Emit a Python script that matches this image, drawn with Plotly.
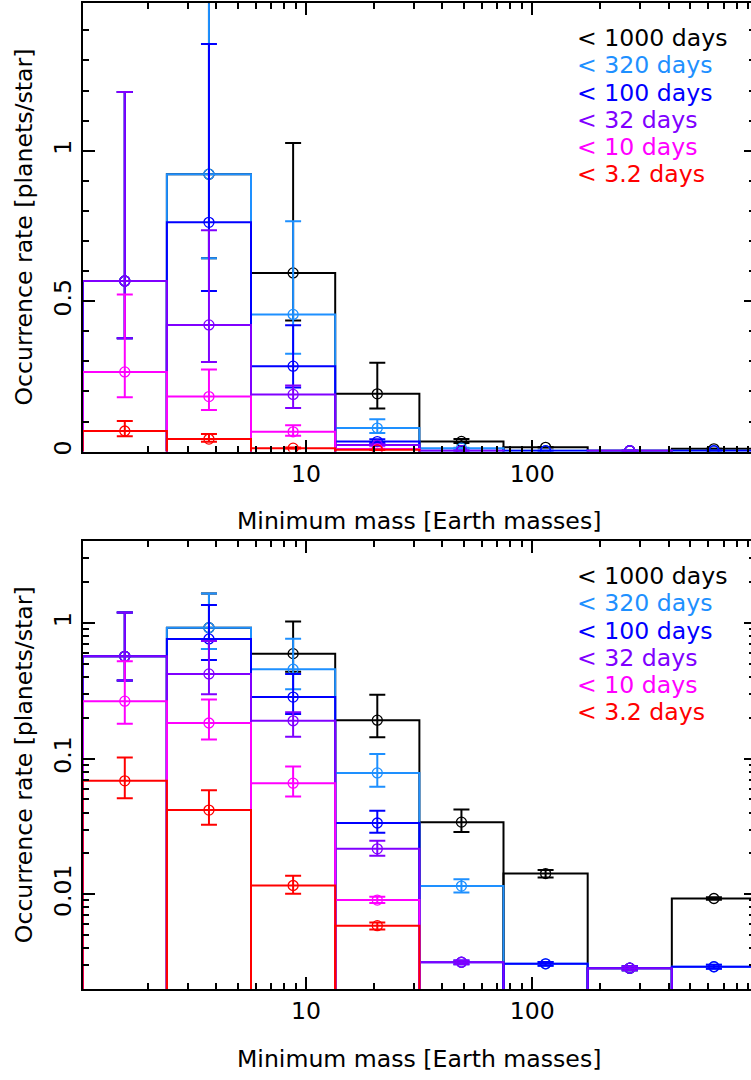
import math
import plotly.graph_objects as go

# Mass bins (Earth masses) shared by every period cut
mass_edges = [1.031, 2.428, 5.716, 13.46, 31.70, 74.6, 175.7, 413.6, 973.9]

period_labels = ["< 1000 days", "< 320 days", "< 100 days", "< 32 days", "< 10 days", "< 3.2 days"]
period_colors = ["#000000", "#1E90FF", "#0000FF", "#8000FF", "#FF00FF", "#FF0000"]

# Occurrence rate per mass bin, with upper / lower bounds of the error bars
rate_1000 = [0.567, 0.922, 0.594, 0.192, 0.0340, 0.0142, 0.00285, 0.0093]
upper_1000 = [1.195, 1.65, 1.026, 0.295, 0.0422, 0.0151, 0.00295, 0.0095]
lower_1000 = [0.377, 0.643, 0.436, 0.1435, 0.0287, 0.0133, 0.00275, 0.0091]

rate_320 = [0.567, 0.922, 0.456, 0.0784, 0.01148, 0.00307, 0.00285, 0.00292]
upper_320 = [1.195, 1.65, 0.766, 0.108, 0.0129, 0.00317, 0.00295, 0.00302]
lower_320 = [0.377, 0.643, 0.325, 0.0619, 0.0103, 0.00297, 0.00275, 0.00282]

rate_100 = [0.567, 0.762, 0.284, 0.0335, 0.00315, 0.00307, 0.00285, 0.00292]
upper_100 = [1.195, 1.355, 0.42, 0.0412, 0.00325, 0.00317, 0.00295, 0.00302]
lower_100 = [0.377, 0.534, 0.213, 0.0284, 0.00305, 0.00297, 0.00275, 0.00282]

rate_32 = [0.567, 0.421, 0.190, 0.0216, 0.00315, 0.0, 0.00285, 0.0]
upper_32 = [1.195, 0.736, 0.22, 0.0248, 0.00325, 0.0, 0.00295, 0.0]
lower_32 = [0.377, 0.298, 0.145, 0.0192, 0.00305, 0.0, 0.00275, 0.0]

rate_10 = [0.265, 0.183, 0.0659, 0.00905, 0.0, 0.0, 0.0, 0.0]
upper_10 = [0.522, 0.273, 0.0874, 0.0096, 0.0, 0.0, 0.0, 0.0]
lower_10 = [0.181, 0.138, 0.0526, 0.0086, 0.0, 0.0, 0.0, 0.0]

rate_3p2 = [0.0685, 0.0417, 0.0116, 0.00586, 0.0, 0.0, 0.0, 0.0]
upper_3p2 = [0.102, 0.0585, 0.0137, 0.0062, 0.0, 0.0, 0.0, 0.0]
lower_3p2 = [0.0511, 0.0325, 0.0101, 0.0055, 0.0, 0.0, 0.0, 0.0]

series = [
    (rate_1000, upper_1000, lower_1000),
    (rate_320, upper_320, lower_320),
    (rate_100, upper_100, lower_100),
    (rate_32, upper_32, lower_32),
    (rate_10, upper_10, lower_10),
    (rate_3p2, upper_3p2, lower_3p2),
]

W, H = 751, 1080
FONT = "DejaVu Sans"
FS = 23.6


def px_x(p):
    return p / W


def px_y(p):
    return 1 - p / H


# plot frame in pixels
left_px = 82.7
axis_right_px = 756.0          # right end of the mass axis (just past the page edge)
top_panels = [(3.3, 453.3), (543.3, 992.7)]

lo = math.log10(mass_edges[0])
hi = math.log10(mass_edges[-1])
x_visible_hi = lo + (hi - lo) * (W - left_px) / (axis_right_px - left_px)

centers = [math.sqrt(a * b) for a, b in zip(mass_edges[:-1], mass_edges[1:])]


def bin_boxes(rate, floor):
    """Open-topped box for every filled bin, each standing on the floor."""
    xs, ys = [], []
    for i, v in enumerate(rate):
        if v <= 0:
            continue
        a, b = mass_edges[i], mass_edges[i + 1]
        xs += [a, a, b, b, None]
        ys += [floor, v, v, floor, None]
    return xs, ys


fig = go.Figure()

panel_axes = [("x", "y", 0.0), ("x2", "y2", 1e-5)]
for xa, ya, floor in panel_axes:
    for (rate, up, low), col in zip(series, period_colors):
        xs, ys = bin_boxes(rate, floor)
        fig.add_trace(go.Scatter(
            x=xs, y=ys, mode="lines", xaxis=xa, yaxis=ya, connectgaps=False,
            line=dict(color=col, width=2), hoverinfo="skip", showlegend=False,
        ))
        yv = [v if v > 0 else None for v in rate]
        e_plus = [u - v if v > 0 else 0 for u, v in zip(up, rate)]
        e_minus = [v - l if v > 0 else 0 for l, v in zip(low, rate)]
        fig.add_trace(go.Scatter(
            x=centers, y=yv, mode="markers", xaxis=xa, yaxis=ya,
            marker=dict(symbol="circle-open", size=10, color=col, line=dict(width=1.3, color=col)),
            error_y=dict(type="data", symmetric=False, array=e_plus, arrayminus=e_minus,
                         color=col, thickness=2, width=8),
            hoverinfo="skip", showlegend=False, cliponaxis=True,
        ))

# empty traces so the right-hand tick axes are drawn
fig.add_trace(go.Scatter(x=[], y=[], xaxis="x", yaxis="y3", showlegend=False))
fig.add_trace(go.Scatter(x=[], y=[], xaxis="x2", yaxis="y4", showlegend=False))

tickfont = dict(family=FONT, size=FS, color="black")

x_common = dict(
    type="log", range=[lo, x_visible_hi], domain=[px_x(left_px), 1.0],
    showline=True, linecolor="black", linewidth=2, mirror="ticks",
    ticks="inside", ticklen=12, tickwidth=1.5, tickcolor="black", dtick=1,
    showgrid=False, zeroline=False, tickfont=tickfont,
    minor=dict(ticks="inside", ticklen=6, tickwidth=1.5, tickcolor="black", dtick="D1", showgrid=False),
)

y_top_dom = [px_y(top_panels[0][1]), px_y(top_panels[0][0])]
y_bot_dom = [px_y(top_panels[1][1]), px_y(top_panels[1][0])]

y_lin = dict(
    range=[0, 1.49], dtick=0.5, tick0=0,
    minor=dict(ticks="inside", ticklen=6, tickwidth=1.5, tickcolor="black", dtick=0.1, showgrid=False),
)
y_log = dict(
    type="log", range=[math.log10(0.002), math.log10(4)], dtick=1,
    minor=dict(ticks="inside", ticklen=6, tickwidth=1.5, tickcolor="black", dtick="D1", showgrid=False),
)

y_left = dict(showline=True, linecolor="black", linewidth=2, ticks="inside", ticklen=12,
              tickwidth=1.5, tickcolor="black", tickangle=-90, showgrid=False, zeroline=False,
              tickfont=tickfont)

y_right = dict(side="right", showline=False, ticks="inside", ticklen=7, tickwidth=1.5,
               tickcolor="black", showticklabels=False, showgrid=False, zeroline=False)


def merge(*ds):
    out = {}
    for d in ds:
        for k, v in d.items():
            if k == "minor" and "minor" in out:
                m = dict(out["minor"])
                m.update(v)
                out["minor"] = m
            else:
                out[k] = v
    return out


minor_short = dict(minor=dict(ticklen=2))

fig.update_layout(
    width=W, height=H, margin=dict(l=0, r=0, t=0, b=0),
    paper_bgcolor="white", plot_bgcolor="white",
    font=dict(family=FONT, size=FS, color="black"),
    showlegend=False,
    xaxis=merge(x_common, dict(anchor="y")),
    xaxis2=merge(x_common, dict(anchor="y2")),
    yaxis=merge(y_left, y_lin, dict(domain=y_top_dom, anchor="x")),
    yaxis2=merge(y_left, y_log, dict(domain=y_bot_dom, anchor="x2")),
    yaxis3=merge(y_right, y_lin, minor_short, dict(overlaying="y", anchor="x")),
    yaxis4=merge(y_right, y_log, minor_short, dict(overlaying="y2", anchor="x2")),
)

annotations = []
for (t, b) in top_panels:
    mid = (t + b) / 2
    annotations.append(dict(
        text="Occurrence rate [planets/star]", x=px_x(24), y=px_y(mid), xref="paper", yref="paper",
        textangle=-90, showarrow=False, xanchor="center", yanchor="middle",
        font=dict(family=FONT, size=FS, color="black"),
    ))
    annotations.append(dict(
        text="Minimum mass [Earth masses]", x=px_x((left_px + axis_right_px) / 2), y=px_y(b + 70),
        xref="paper", yref="paper", showarrow=False, xanchor="center", yanchor="middle",
        font=dict(family=FONT, size=FS, color="black"),
    ))
    for i, (lab, col) in enumerate(zip(period_labels, period_colors)):
        annotations.append(dict(
            text=lab, x=px_x(575), y=px_y(t + 35 + 27.3 * i), xref="paper", yref="paper",
            showarrow=False, xanchor="left", yanchor="middle",
            font=dict(family=FONT, size=FS, color=col),
        ))
fig.update_layout(annotations=annotations)

fig.write_html("out.html")
